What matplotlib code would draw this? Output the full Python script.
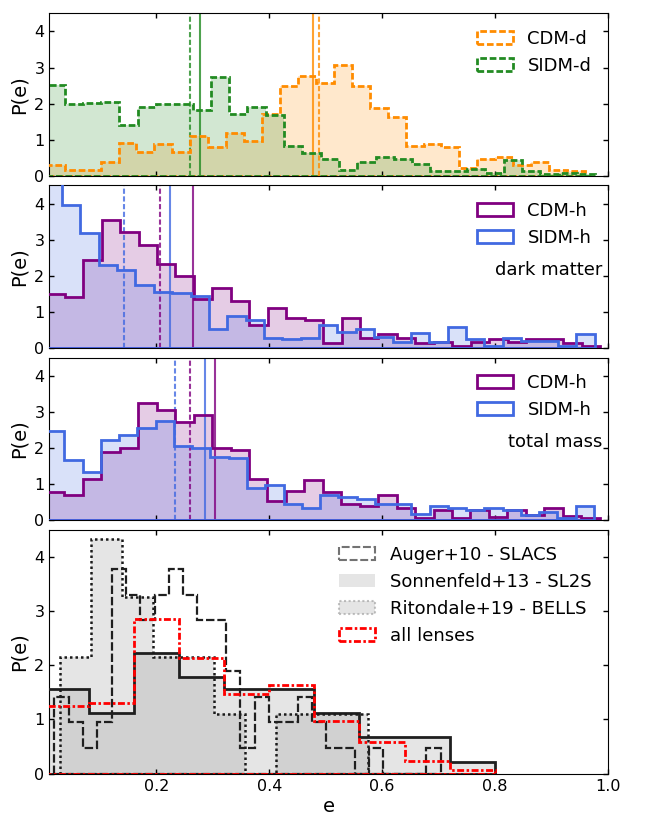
import numpy as np
import matplotlib
matplotlib.use("Agg")
import matplotlib.pyplot as plt
from matplotlib.patches import Patch

# ---------------- data ----------------
# Panel 1: CDM-d / SIDM-d
cdm_d_range = (0.0056, 0.960)
cdm_d_vals = [0.31, 0.17, 0.17, 0.39, 0.92, 0.66, 0.88, 0.66, 1.10, 0.81,
              1.20, 0.96, 1.71, 2.48, 2.76, 2.57, 3.07, 2.48, 1.885, 1.64,
              0.84, 0.88, 0.81, 0.23, 0.48, 0.53, 0.31, 0.39, 0.17, 0.13]
sidm_d_range = (0.0046, 0.978)
sidm_d_vals = [2.52, 1.98, 2.03, 2.06, 1.42, 1.90, 1.98, 1.98, 1.82, 2.73,
               1.72, 1.90, 1.68, 0.82, 0.65, 0.48, 0.17, 0.38, 0.53, 0.47,
               0.33, 0.15, 0.15, 0.20, 0.07, 0.45, 0.14, 0.05, 0.07, 0.05]
p1_means = {"cdm_median": 0.4774, "cdm_mean": 0.488,
            "sidm_median": 0.2766, "sidm_mean": 0.2603}

# Panel 2: dark matter halo
cdm_h_dm_range = (0.0046, 0.9866)
cdm_h_dm_vals = [1.49, 1.41, 2.43, 3.54, 3.21, 2.85, 2.33, 1.99, 1.35, 1.65,
                 1.29, 0.63, 1.11, 0.83, 0.77, 0.13, 0.83, 0.28, 0.38, 0.28,
                 0.13, 0.18, 0.06, 0.18, 0.24, 0.18, 0.24, 0.24, 0.13, 0.06]
sidm_h_dm_range = (0.0, 0.977)
sidm_h_dm_vals = [5.10, 3.95, 3.18, 2.30, 2.17, 1.75, 1.55, 1.53, 1.43, 0.52,
                  0.89, 0.78, 0.28, 0.24, 0.28, 0.64, 0.44, 0.52, 0.32, 0.17,
                  0.43, 0.17, 0.58, 0.24, 0.06, 0.28, 0.20, 0.20, 0.06, 0.38]
p2_means = {"cdm_median": 0.2648, "cdm_mean": 0.207,
            "sidm_median": 0.2246, "sidm_mean": 0.142}

# Panel 3: total mass
cdm_h_tot_range = (0.0042, 0.986)
cdm_h_tot_vals = [0.77, 0.71, 1.15, 1.88, 1.99, 3.23, 3.04, 2.71, 2.91, 2.01,
                  1.93, 1.15, 0.53, 0.80, 1.11, 0.77, 0.46, 0.40, 0.70, 0.33,
                  0.06, 0.28, 0.06, 0.28, 0.10, 0.28, 0.15, 0.33, 0.13, 0.06]
sidm_h_tot_range = (0.0044, 0.976)
sidm_h_tot_vals = [2.46, 1.66, 1.33, 2.22, 2.36, 2.55, 2.74, 2.04, 2.01, 1.76,
                   1.71, 0.89, 0.97, 0.44, 0.33, 0.69, 0.64, 0.58, 0.44, 0.44,
                   0.18, 0.39, 0.33, 0.28, 0.33, 0.28, 0.15, 0.24, 0.06, 0.39]
p3_means = {"cdm_median": 0.3043, "cdm_mean": 0.26,
            "sidm_median": 0.2866, "sidm_mean": 0.2335}

# Panel 4: observations
auger_range = (0.0191, 0.7041)
auger_vals = [1.42, 0.95, 0.47, 0.95, 3.77, 3.30, 2.83, 3.30, 3.77, 3.30,
              2.83, 2.83, 1.89, 0.47, 1.42, 0.95, 0.95, 1.42, 0.95, 0.47,
              0.47, 0.00, 0.47, 0.00, 0.00, 0.00, 0.47]
sonnenfeld_range = (0.0, 0.8)
sonnenfeld_vals = [1.56, 1.12, 2.23, 1.79, 1.56, 1.56, 1.12, 0.67, 0.67, 0.22]
ritondale_range = (0.0298, 0.5758)
ritondale_vals = [2.16, 4.32, 3.25, 2.16, 2.16, 1.10, 0.00, 1.10, 1.10, 1.10]
all_range = (0.0, 0.8)
all_vals = [1.25, 1.31, 2.86, 2.13, 1.47, 1.63, 0.98, 0.59, 0.24, 0.07]

xticks = [0.2, 0.4, 0.6, 0.8, 1.0]
yticks = [0, 1, 2, 3, 4]


def edges_for(rng, vals):
    return np.linspace(rng[0], rng[1], len(vals) + 1)


# ---------------- figure ----------------
fig = plt.figure(figsize=(6.45, 8.18), dpi=100)
gs = fig.add_gridspec(4, 1, height_ratios=[1, 1, 1, 1.5],
                      left=0.0764, right=0.9419, bottom=0.0542, top=0.9837,
                      hspace=0.0514)
axes = [fig.add_subplot(gs[i]) for i in range(4)]


def hist(ax, rng, vals, color, ls, lw=2.0, fill=None, falpha=0.2, lalpha=1.0, z=3):
    e = edges_for(rng, vals)
    if fill is not None:
        ax.stairs(vals, e, fill=True, facecolor=fill, alpha=falpha,
                  linewidth=0, zorder=1)
    ax.stairs(vals, e, baseline=0, fill=False, edgecolor=color, linestyle=ls,
              linewidth=lw, alpha=lalpha, zorder=z)
    ax.hlines(0, e[0], e[-1], colors=color, linestyles=ls, linewidth=lw,
              alpha=lalpha, zorder=z)


dash = (0, (2.4, 1.0))
vdash = (0, (2.5, 1.2))

# Panel 1
ax = axes[0]
hist(ax, cdm_d_range, cdm_d_vals, "darkorange", dash, fill="darkorange")
hist(ax, sidm_d_range, sidm_d_vals, "forestgreen", dash, fill="forestgreen")
ax.axvline(p1_means["sidm_mean"], color="forestgreen", ls=vdash, lw=1.5, alpha=0.8)
ax.axvline(p1_means["sidm_median"], color="forestgreen", ls="-", lw=1.5, alpha=0.8)
ax.axvline(p1_means["cdm_median"], color="darkorange", ls="-", lw=1.5, alpha=0.8)
ax.axvline(p1_means["cdm_mean"], color="darkorange", ls=vdash, lw=1.5, alpha=0.8)
h1 = [Patch(facecolor="white", edgecolor="darkorange", ls=dash, lw=2, label="CDM-d"),
      Patch(facecolor="white", edgecolor="forestgreen", ls=dash, lw=2, label="SIDM-d")]
ax.legend(handles=h1, loc="upper right", frameon=False, fontsize=13)

# Panel 2
ax = axes[1]
hist(ax, cdm_h_dm_range, cdm_h_dm_vals, "purple", "-", fill="purple")
hist(ax, sidm_h_dm_range, sidm_h_dm_vals, "royalblue", "-", fill="royalblue")
ax.axvline(p2_means["sidm_mean"], color="royalblue", ls=vdash, lw=1.5, alpha=0.8)
ax.axvline(p2_means["cdm_mean"], color="purple", ls=vdash, lw=1.5, alpha=0.8)
ax.axvline(p2_means["sidm_median"], color="royalblue", ls="-", lw=1.5, alpha=0.8)
ax.axvline(p2_means["cdm_median"], color="purple", ls="-", lw=1.5, alpha=0.8)
h2 = [Patch(facecolor="white", edgecolor="purple", lw=2, label="CDM-h"),
      Patch(facecolor="white", edgecolor="royalblue", lw=2, label="SIDM-h")]
ax.legend(handles=h2, loc="upper right", frameon=False, fontsize=13)
ax.text(0.99, 0.483, "dark matter", transform=ax.transAxes, ha="right",
        va="center", fontsize=13)

# Panel 3
ax = axes[2]
hist(ax, cdm_h_tot_range, cdm_h_tot_vals, "purple", "-", fill="purple")
hist(ax, sidm_h_tot_range, sidm_h_tot_vals, "royalblue", "-", fill="royalblue")
ax.axvline(p3_means["sidm_mean"], color="royalblue", ls=vdash, lw=1.5, alpha=0.8)
ax.axvline(p3_means["cdm_mean"], color="purple", ls=vdash, lw=1.5, alpha=0.8)
ax.axvline(p3_means["sidm_median"], color="royalblue", ls="-", lw=1.5, alpha=0.8)
ax.axvline(p3_means["cdm_median"], color="purple", ls="-", lw=1.5, alpha=0.8)
ax.legend(handles=h2, loc="upper right", frameon=False, fontsize=13)
ax.text(0.99, 0.483, "total mass", transform=ax.transAxes, ha="right",
        va="center", fontsize=13)

# Panel 4
ax = axes[3]
gray_fill = "0.6"
hist(ax, sonnenfeld_range, sonnenfeld_vals, "0.12", "-", lw=2.0,
     fill=gray_fill, falpha=0.25, z=3)
hist(ax, ritondale_range, ritondale_vals, "0.1", (0, (1.0, 1.2)), lw=1.8,
     fill=gray_fill, falpha=0.25, z=3)
hist(ax, auger_range, auger_vals, "0.12", (0, (3.8, 1.3)), lw=1.6, z=4)
hist(ax, all_range, all_vals, "red", (0, (2.5, 0.9, 0.9, 0.9)), lw=2.0, z=5)
h4 = [Patch(facecolor="none", edgecolor="0.45", ls=(0, (3.8, 1.3)), lw=1.5,
            label="Auger+10 - SLACS"),
      Patch(facecolor=(0.6, 0.6, 0.6, 0.25), edgecolor="none",
            label="Sonnenfeld+13 - SL2S"),
      Patch(facecolor=(0.6, 0.6, 0.6, 0.25), edgecolor=(0.6, 0.6, 0.6, 0.6),
            ls=(0, (1.0, 1.2)), lw=1.5, label="Ritondale+19 - BELLS"),
      Patch(facecolor="white", edgecolor="red", ls=(0, (2.5, 0.9, 0.9, 0.9)),
            lw=2, label="all lenses")]
ax.legend(handles=h4, loc="upper right", frameon=False, fontsize=13)
ax.set_xlabel("e", fontsize=14, labelpad=2)

for i, ax in enumerate(axes):
    ax.set_xlim(0.01, 1.0)
    ax.set_ylim(0, 4.5)
    ax.set_xticks(xticks)
    ax.set_yticks(yticks)
    ax.tick_params(direction="in", top=True, right=True, length=3.5, width=1,
                   labelsize=11.5, labelbottom=(i == 3))
    ax.tick_params(axis="x", pad=4)
    ax.set_ylabel("P(e)", fontsize=14)

fig.savefig("out.png", dpi=100)
